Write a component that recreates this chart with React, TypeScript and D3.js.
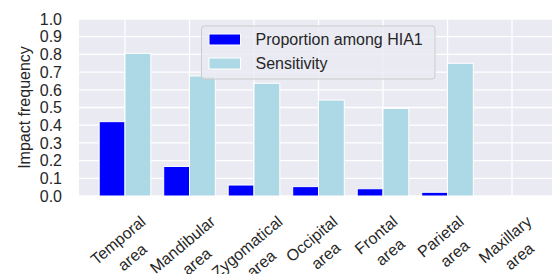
import React from "react";
import * as d3 from "d3";

const categories = [
  "Temporal\narea",
  "Mandibular\narea",
  "Zygomatical\narea",
  "Occipital\narea",
  "Frontal\narea",
  "Parietal\narea",
  "Maxillary\narea",
];
const proportion = [0.42, 0.167, 0.062, 0.053, 0.041, 0.021, 0];
const sensitivity = [0.806, 0.678, 0.637, 0.542, 0.495, 0.75, 0];
const yTicks = [0, 0.1, 0.2, 0.3, 0.4, 0.5, 0.6, 0.7, 0.8, 0.9, 1.0];
const seriesNames = ["Proportion among HIA1", "Sensitivity"];
const seriesColors = ["#0000FF", "#ADD8E6"];

const W = 552;
const H = 274;
const FONT = "'Liberation Sans', Arial, sans-serif";
const FS = 16;
const TEXT = "#262626";

function measure(text: string): number {
  const c = document.createElement("canvas").getContext("2d");
  if (!c) return text.length * FS * 0.55;
  c.font = `${FS}px ${FONT}`;
  return c.measureText(text).width;
}

export default function App() {
  const plotLeft = 79;
  const plotRight = W + 10;
  const plotTop = 19;
  const plotBottom = 196;

  const x = d3.scaleLinear().domain([0, 6]).range([125, 512]);
  const y = d3.scaleLinear().domain([0, 1]).range([plotBottom, plotTop]);
  const bw = 0.4;

  const ang = (40 * Math.PI) / 180;
  const lineH = 22;
  const labelTop = 210.5;

  return (
    <svg width={W} height={H} style={{ position: "absolute", left: 0, top: 0, fontFamily: FONT }}>
      <rect x={0} y={0} width={W} height={H} fill="#ffffff" />
      <rect x={plotLeft} y={plotTop} width={plotRight - plotLeft} height={plotBottom - plotTop} fill="#EAEAF2" />
      {yTicks.map((t) => (
        <line key={"gy" + t} x1={plotLeft} x2={plotRight} y1={y(t)} y2={y(t)} stroke="#ffffff" strokeWidth={1.3} />
      ))}
      {categories.map((c, i) => (
        <line key={"gx" + i} x1={x(i)} x2={x(i)} y1={plotTop} y2={plotBottom} stroke="#ffffff" strokeWidth={1.3} />
      ))}
      {proportion.map((v, i) => (
        <rect
          key={"b" + i}
          x={x(i - bw)}
          width={x(i) - x(i - bw)}
          y={y(v)}
          height={y(0) - y(v)}
          fill={seriesColors[0]}
          stroke="#ffffff"
          strokeWidth={v > 0 ? 1 : 0}
        />
      ))}
      {sensitivity.map((v, i) => (
        <rect
          key={"s" + i}
          x={x(i)}
          width={x(i + bw) - x(i)}
          y={y(v)}
          height={y(0) - y(v)}
          fill={seriesColors[1]}
          stroke="#ffffff"
          strokeWidth={v > 0 ? 1 : 0}
        />
      ))}
      {yTicks.map((t) => (
        <text key={"yt" + t} x={62} y={y(t)} dy="0.36em" textAnchor="end" fontSize={FS} fill={TEXT}>
          {t.toFixed(1)}
        </text>
      ))}
      <text
        transform={`translate(24,${(plotTop + plotBottom) / 2}) rotate(-90)`}
        textAnchor="middle"
        dy="0.36em"
        fontSize={FS}
        fill={TEXT}
      >
        Impact frequency
      </text>
      {categories.map((c, i) => {
        const lines = c.split("\n");
        const w = Math.max(...lines.map(measure));
        const h = lines.length * lineH;
        const bh = w * Math.sin(ang) + h * Math.cos(ang);
        const cy = labelTop + bh / 2;
        return (
          <g key={"xl" + i} transform={`translate(${x(i)},${cy}) rotate(-40)`}>
            {lines.map((l, j) => (
              <text
                key={j}
                x={0}
                y={-h / 2 + (j + 0.5) * lineH}
                dy="0.36em"
                textAnchor="middle"
                fontSize={FS}
                fill={TEXT}
              >
                {l}
              </text>
            ))}
          </g>
        );
      })}
      <g>
        <rect x={201.5} y={26} width={233.5} height={53} rx={3} fill="#EAEAF2" fillOpacity={0.8} stroke="#cccccc" strokeWidth={1} />
        {seriesNames.map((n, k) => (
          <g key={"lg" + k}>
            <rect x={209} y={34 + k * 24} width={31.5} height={11} fill={seriesColors[k]} stroke="#ffffff" strokeWidth={1} />
            <text x={255.5} y={39.5 + k * 24} dy="0.36em" fontSize={FS} fill={TEXT}>
              {n}
            </text>
          </g>
        ))}
      </g>
    </svg>
  );
}
